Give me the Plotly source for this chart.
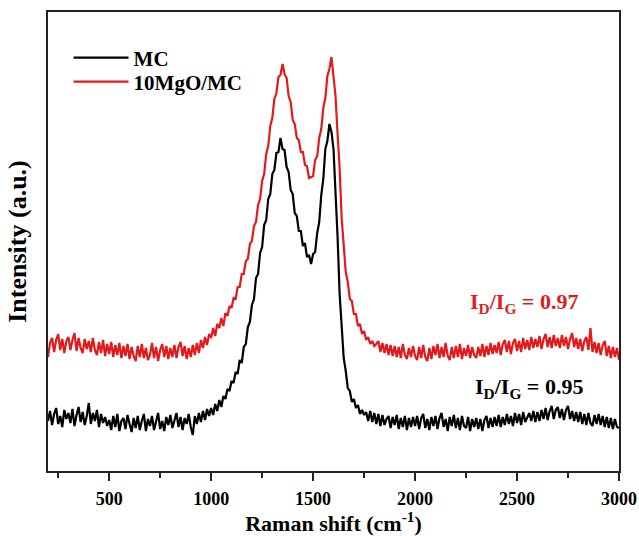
import plotly.graph_objects as go

# Raman shift (cm^-1), 200..3000 step 10
raman_shift = list(range(200, 3001, 10))

mc_intensity = [
    50, 60, 46, 57, 63, 47, 55, 44, 61, 52,
    58, 48, 62, 45, 56, 64, 49, 59, 46, 55,
    68, 47, 58, 50, 61, 44, 57, 48, 54, 45,
    51, 41, 55, 44, 57, 40, 50, 53, 42, 56,
    47, 39, 53, 43, 55, 41, 50, 57, 40, 52,
    45, 55, 41, 51, 58, 42, 50, 40, 54, 46,
    56, 43, 51, 58, 44, 54, 41, 53, 47, 57,
    44, 36, 55, 47, 58, 49, 60, 51, 62, 55,
    63, 56, 67, 60, 71, 64, 75, 72, 82, 80,
    90, 88, 99, 97, 111, 108, 124, 127, 144, 149,
    166, 172, 193, 197, 218, 224, 246, 251, 272, 277,
    297, 301, 318, 319, 333, 322, 321, 304, 299, 281,
    277, 258, 255, 240, 240, 225, 228, 214, 216, 207,
    217, 219, 238, 249, 276, 292, 322, 330, 347, 339,
    322, 279, 234, 177, 142, 113, 100, 83, 80, 69,
    72, 63, 66, 57, 61, 56, 59, 50, 60, 49,
    58, 47, 57, 45, 56, 46, 52, 55, 43, 54,
    46, 56, 42, 53, 44, 55, 41, 53, 44, 54,
    45, 55, 42, 53, 57, 43, 52, 41, 54, 45,
    55, 42, 53, 58, 44, 52, 40, 54, 45, 56,
    43, 53, 41, 55, 45, 43, 54, 40, 52, 44,
    53, 42, 52, 40, 51, 55, 43, 53, 44, 54,
    45, 56, 44, 54, 46, 57, 47, 55, 45, 58,
    48, 57, 46, 59, 49, 53, 58, 50, 60, 49,
    59, 50, 61, 52, 63, 51, 60, 65, 52, 61,
    64, 53, 62, 51, 61, 65, 52, 60, 50, 59,
    49, 59, 47, 57, 46, 58, 48, 45, 56, 47,
    57, 46, 55, 44, 54, 43, 53, 42, 52, 44,
    43,
]

mgo_mc_intensity = [
    114, 128, 133, 119, 131, 137, 121, 132, 118, 130,
    134, 121, 131, 138, 120, 133, 123, 118, 132, 122,
    130, 119, 133, 121, 116, 129, 118, 131, 115, 127,
    117, 129, 114, 126, 116, 128, 113, 125, 115, 127,
    112, 124, 115, 110, 125, 114, 127, 113, 123, 111,
    116, 128, 113, 124, 110, 121, 127, 114, 125, 112,
    123, 114, 126, 113, 124, 129, 115, 125, 112, 123,
    114, 126, 116, 128, 118, 131, 123, 134, 126, 137,
    133, 143, 135, 147, 143, 153, 145, 158, 155, 165,
    163, 173, 172, 184, 184, 197, 197, 210, 212, 227,
    230, 245, 249, 266, 272, 290, 297, 317, 325, 345,
    353, 372, 378, 394, 396, 407, 397, 393, 375, 369,
    351, 347, 333, 331, 319, 319, 306, 305, 293, 294,
    295, 311, 315, 333, 342, 363, 373, 395, 402, 414,
    395, 375, 337, 303, 253, 227, 199, 189, 172, 170,
    157, 157, 145, 147, 137, 140, 131, 134, 127, 130,
    125, 127, 130, 119, 128, 118, 127, 116, 126, 115,
    125, 114, 124, 113, 127, 116, 112, 123, 114, 125,
    115, 111, 124, 113, 126, 114, 110, 123, 112, 125,
    116, 127, 113, 124, 114, 128, 115, 111, 124, 113,
    125, 114, 127, 112, 123, 115, 126, 113, 124, 116,
    113, 124, 115, 127, 114, 125, 116, 128, 117, 126,
    118, 129, 116, 127, 131, 119, 130, 117, 128, 132,
    120, 130, 119, 133, 122, 131, 121, 134, 123, 132,
    124, 135, 122, 132, 137, 124, 134, 123, 136, 125,
    133, 123, 136, 125, 134, 122, 132, 138, 124, 133,
    122, 132, 120, 130, 134, 121, 143, 119, 129, 118,
    128, 116, 126, 130, 115, 125, 113, 124, 114, 123,
    111,
]

x_tick_vals = [500, 1000, 1500, 2000, 2500, 3000]
x_tick_text = ["500", "1000", "1500", "2000", "2500", "3000"]

ratio_mc = "0.95"
ratio_mgo = "0.97"

RED = "#e31a1c"
FONT = "Liberation Serif"

fig = go.Figure()
fig.add_trace(go.Scatter(x=raman_shift, y=mc_intensity, mode="lines", name="<b>MC</b>",
                         line=dict(color="black", width=2.2), legend="legend"))
fig.add_trace(go.Scatter(x=raman_shift, y=mgo_mc_intensity, mode="lines", name="<b>10MgO/MC</b>",
                         line=dict(color=RED, width=2.2), legend="legend2"))

fig.add_annotation(x=0.735, y=0.366, xref="paper", yref="paper", showarrow=False,
                   xanchor="left", yanchor="middle",
                   text=f"<b>I<sub>D</sub>/I<sub>G</sub> = {ratio_mgo}</b>",
                   font=dict(family=FONT, size=22, color=RED))
fig.add_annotation(x=0.744, y=0.181, xref="paper", yref="paper", showarrow=False,
                   xanchor="left", yanchor="middle",
                   text=f"<b>I<sub>D</sub>/I<sub>G</sub> = {ratio_mc}</b>",
                   font=dict(family=FONT, size=22, color="black"))

legend_common = dict(xanchor="left", yanchor="middle", bgcolor="rgba(0,0,0,0)",
                     itemwidth=55, font=dict(family=FONT, size=21, color="black"))

fig.update_layout(
    width=639, height=536,
    margin=dict(l=48, r=20, t=12, b=65),
    paper_bgcolor="white", plot_bgcolor="white",
    font=dict(family=FONT, color="black"),
    showlegend=True,
    legend=dict(x=0.036, y=0.8998, **legend_common),
    legend2=dict(x=0.036, y=0.8475, **legend_common),
    xaxis=dict(range=[200, 3000], tickvals=x_tick_vals, ticktext=x_tick_text,
               ticks="outside", ticklen=8, tickwidth=2, tickcolor="#222",
               minor=dict(dtick=250, tick0=0, ticks="outside", ticklen=5, tickwidth=2, tickcolor="#222"),
               showline=True, linewidth=2, linecolor="#222", mirror=True,
               showgrid=False, zeroline=False, automargin=False,
               ticklabelstandoff=2,
               tickfont=dict(family=FONT, size=18, color="black", weight="bold"),
               title=dict(text="<b>Raman shift (cm<sup>-1</sup>)</b>", standoff=6,
                          font=dict(family=FONT, size=22, color="black"))),
    yaxis=dict(range=[0, 459], showticklabels=False, ticks="",
               showline=True, linewidth=2, linecolor="#222", mirror=True,
               showgrid=False, zeroline=False,
               title=dict(text="<b>Intensity (a.u.)</b>", standoff=12,
                          font=dict(family=FONT, size=26, color="black"))),
)

fig.write_html("out.html")
